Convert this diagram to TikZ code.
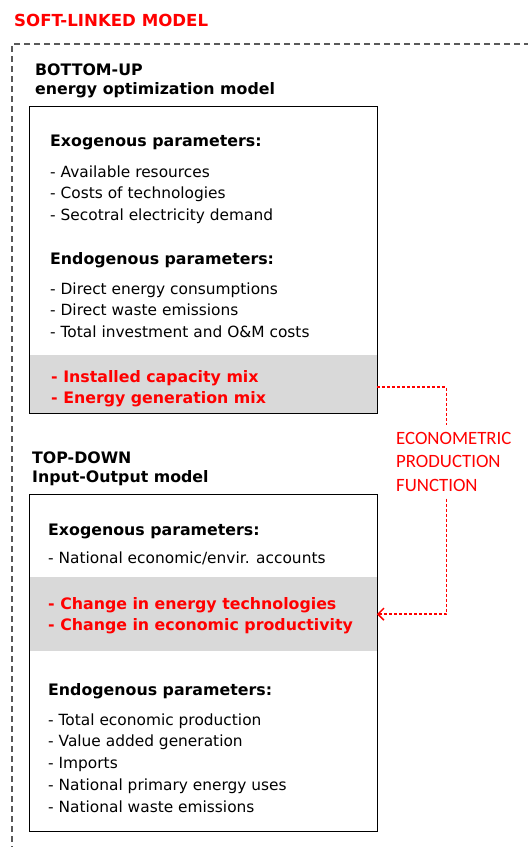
\documentclass[tikz,border=0pt]{standalone}
\usepackage{fontspec}
\setmainfont{DejaVu Sans}
\newfontfamily\calibri{Carlito}
\usetikzlibrary{arrows.meta}
\definecolor{linkred}{HTML}{FF0000}
\definecolor{bandgray}{HTML}{D9D9D9}
\definecolor{framegray}{HTML}{595959}

\begin{document}
\begin{tikzpicture}[x=1pt,y=-1pt,
	body/.style={font=\fontsize{15.4}{21.8}\selectfont, align=left, inner sep=0pt, anchor=base west},
	head/.style={body, font=\fontsize{15.8}{19.5}\selectfont\bfseries},
	hot/.style={body, font=\fontsize{15.8}{21.4}\selectfont\bfseries, text=linkred},
	model/.style={rectangle, draw, line width=1.3pt, minimum width=348pt, inner sep=0pt, anchor=north west},
	band/.style={rectangle, fill=bandgray, minimum width=348pt, inner sep=0pt, anchor=north west},
	link/.style={linkred, line width=1.5pt, dash pattern=on 3pt off 2pt}]
	\useasboundingbox (0,0) rectangle (528,847);

	% outer frame, runs off the page to the right and below
	\draw[framegray, line width=1.3pt, dash pattern=on 6pt off 4pt] (530,44) -| (12,850);
	\node (title) [head, text=linkred, font=\fontsize{16.6}{20}\selectfont\bfseries] at (14,26.7) {SOFT-LINKED MODEL};

	% bottom-up model (text blocks sit on the baseline of their last line)
	\node (bu) [head] at (35,94.5) {BOTTOM-UP\\energy optimization model};
	\node (mix) [band, minimum height=58pt] at (28.5,355) {};
	\node (buBox) [model, minimum height=307pt] at (28.5,106) {};
	\node (exo1) [head] at (50,146.7) {Exogenous parameters:};
	\node (exo1list) [body] at (50,220.6) {- Available resources\\- Costs of technologies\\- Secotral electricity demand};
	\node (endo1) [head] at (50,264.5) {Endogenous parameters:};
	\node (endo1list) [body] at (50,337.6) {- Direct energy consumptions\\- Direct waste emissions\\- Total investment and O\&M costs};
	\node (mixtext) [hot] at (51,403.4) {- Installed capacity mix\\- Energy generation mix};

	% top-down model
	\node (td) [head] at (32,482.5) {TOP-DOWN\\Input-Output model};
	\node (change) [band, minimum height=74pt] at (28.5,577) {};
	\node (tdBox) [model, minimum height=337pt] at (28.5,494) {};
	\node (exo2) [head] at (48,535.7) {Exogenous parameters:};
	\node (exo2list) [body] at (48,563) {- National economic/envir. accounts};
	\node (changetext) [hot] at (48,630.4) {- Change in energy technologies\\- Change in economic productivity};
	\node (endo2) [head] at (48,695) {Endogenous parameters:};
	\node (endo2list) [body] at (48,812.2) {- Total economic production\\- Value added generation\\- Imports\\- National primary energy uses\\- National waste emissions};

	% soft link between the two
	\node (func) [align=left, text=linkred, inner xsep=0pt, inner ysep=7pt, anchor=north west,
		font=\calibri\fontsize{18.8}{23.5}\selectfont] at (396,425) {ECONOMETRIC\\PRODUCTION\\FUNCTION};
	\draw[link] ([yshift=-3pt]mix.east) -| ([xshift=-7.5pt]func.north);
	\draw[link,-{Straight Barb[length=6pt,width=12pt]}] ([xshift=-7.5pt]func.south) |- (change.east);
\end{tikzpicture}
\end{document}
